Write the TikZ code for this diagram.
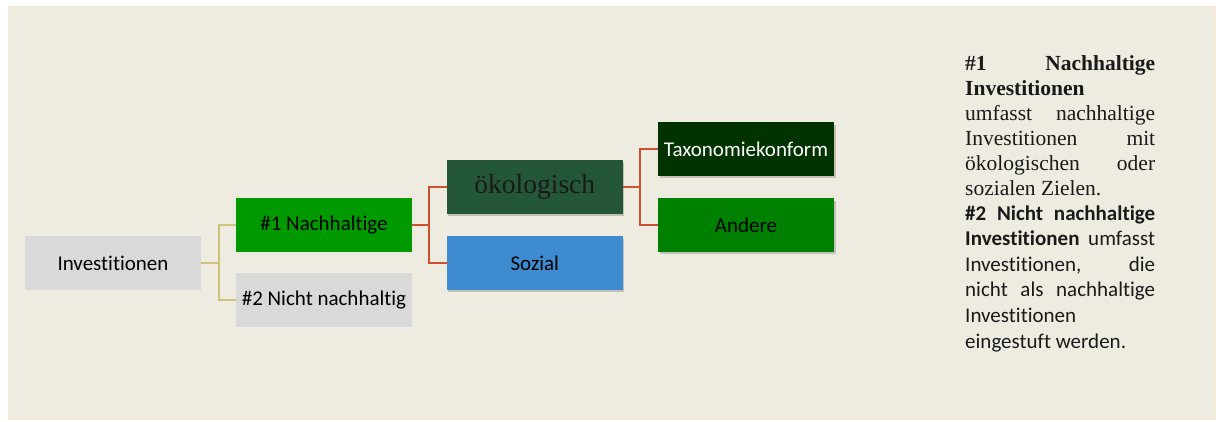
\documentclass[tikz,border=0pt]{standalone}
\usepackage{fontspec}
\setmainfont{Liberation Serif}
\newfontfamily\carl[Ligatures=NoCommon]{Carlito}
\usetikzlibrary{shadows}
\definecolor{bgc}{HTML}{EEEBE0}
\definecolor{bgedge}{HTML}{FBE4D2}
\definecolor{greyc}{HTML}{D9D9D9}
\definecolor{gone}{HTML}{009900}
\definecolor{okoc}{HTML}{245638}
\definecolor{taxc}{HTML}{013301}
\definecolor{andc}{HTML}{008000}
\definecolor{sozc}{HTML}{3F8BD0}
\definecolor{olivec}{HTML}{CCC47C}
\definecolor{redc}{HTML}{CC4F2E}
\definecolor{txtc}{HTML}{1A1A1A}
\newcommand{\boxfont}{\carl\fontsize{21}{25}\selectfont}
\newcommand{\serfont}{\fontsize{21.5}{25}\selectfont}
\newcommand{\sanfont}{\carl\fontsize{21}{25}\selectfont}
\newcommand{\linew}{190pt}
\begin{document}
\begin{tikzpicture}[x=1pt,y=-1pt,
  boxst/.style={rectangle, inner sep=0pt, minimum width=176pt, minimum height=53.5pt, font=\boxfont, text=black},
  shad/.style={drop shadow={shadow xshift=1.5pt, shadow yshift=-2.5pt, opacity=0.18, fill=black}},
  conA/.style={draw=olivec, line width=2pt},
  conB/.style={draw=redc, line width=2pt},
  txt/.style={anchor=base west, inner sep=0pt, text=txtc}
]
\useasboundingbox (0,0) rectangle (1216,421);
\fill[white] (0,0) rectangle (1216,421);
\draw[fill=bgc, draw=bgedge, line width=1pt] (8,6) rectangle (1215,419);

% boxes
\node[boxst, fill=greyc] (inv) at (113,263) {Investitionen};
\node[boxst, fill=gone] (n1) at (324,224.8) {\#1 Nachhaltige};
\node[boxst, fill=greyc] (n2) at (324,299.8) {\#2 Nicht nachhaltig};
\node[boxst, shad, fill=okoc, font=\fontsize{27.5}{30}\selectfont, text=txtc] (oko) at (534.8,186.8) {ökologisch};
\node[boxst, shad, fill=sozc] (soz) at (534.8,263) {Sozial};
\node[boxst, shad, fill=taxc, text=white] (tax) at (746,149) {Taxonomiekonform};
\node[boxst, shad, fill=andc] (and) at (746,224.8) {Andere};

% connectors
\draw[conA] (inv.east) -- ++(17.5,0) |- (n1.west);
\draw[conA] (inv.east) -- ++(17.5,0) |- (n2.west);
\draw[conB] (n1.east) -- ++(17,0) |- (oko.west);
\draw[conB] (n1.east) -- ++(17,0) |- (soz.west);
\draw[conB] (oko.east) -- ++(17,0) |- (tax.west);
\draw[conB] (oko.east) -- ++(17,0) |- (and.west);

% right-hand text
\node[txt, font=\serfont] (t0) at (965,70) {\hbox to \linew{\textbf{\#1}\hfill\textbf{Nachhaltige}}};
\node[txt, font=\serfont] (t1) at (965,95) {\textbf{Investitionen}};
\node[txt, font=\serfont] (t2) at (965,120) {\hbox to \linew{umfasst\hfill nachhaltige}};
\node[txt, font=\serfont] (t3) at (965,145) {\hbox to \linew{Investitionen\hfill mit}};
\node[txt, font=\serfont] (t4) at (965,170) {\hbox to \linew{ökologischen\hfill oder}};
\node[txt, font=\serfont] (t5) at (965,195) {sozialen Zielen.};
\node[txt, font=\sanfont] (t6) at (965,220) {\hbox to \linew{\textbf{\#2}\hfill\textbf{Nicht}\hfill\textbf{nachhaltige}}};
\node[txt, font=\sanfont] (t7) at (965,245.6) {\hbox to \linew{\textbf{Investitionen}\hfill umfasst}};
\node[txt, font=\sanfont] (t8) at (965,271.2) {\hbox to \linew{Investitionen,\hfill die}};
\node[txt, font=\sanfont] (t9) at (965,296.8) {\hbox to \linew{nicht\hfill als\hfill nachhaltige}};
\node[txt, font=\sanfont] (t10) at (965,322.4) {Investitionen};
\node[txt, font=\sanfont] (t11) at (965,348) {eingestuft werden.};
\end{tikzpicture}
\end{document}
